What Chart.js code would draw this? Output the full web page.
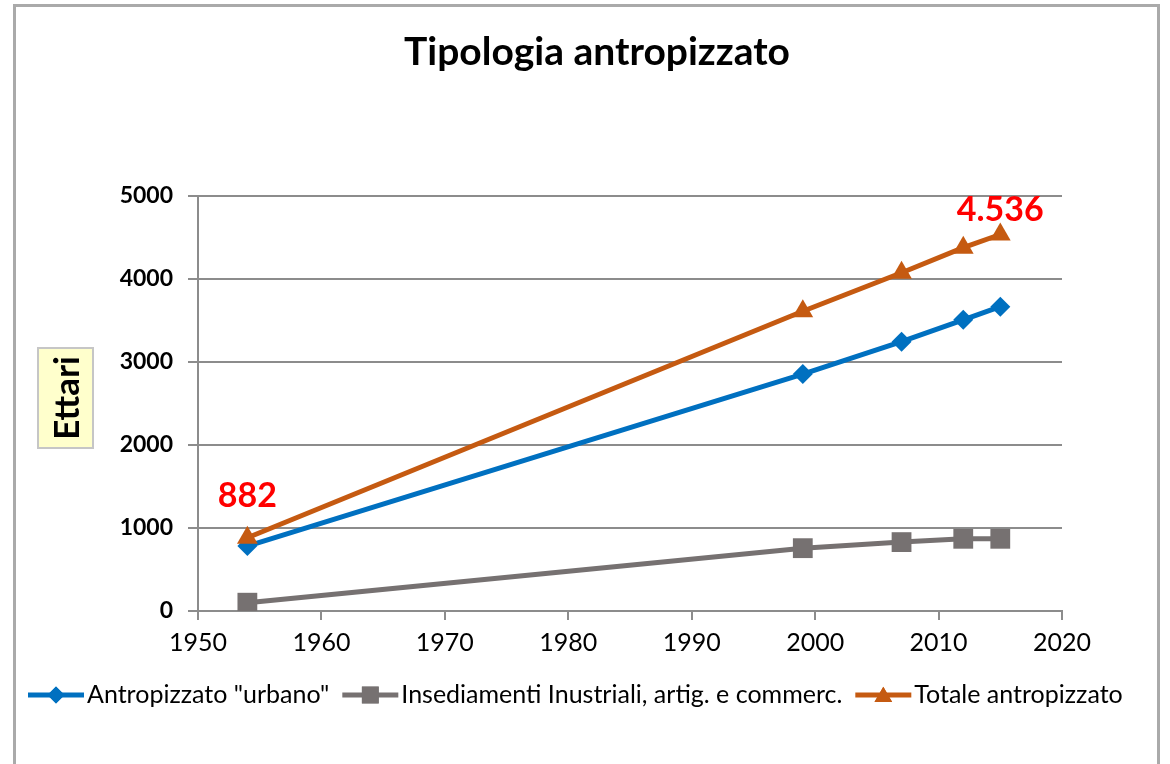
<!DOCTYPE html>
<html>
<head>
<meta charset="utf-8">
<script src="https://cdn.jsdelivr.net/npm/chart.js@4/dist/chart.umd.min.js"></script>
<style>
	html, body { margin: 0; padding: 0; background: #fff; }
	#wrap { width: 1170px; height: 764px; }
</style>
</head>
<body>
<div id="wrap"><canvas id="tipologiaChart" width="1170" height="764"></canvas></div>
<script>
// data
const years = [1954, 1999, 2007, 2012, 2015];
const urbano = [782, 2855, 3245, 3508, 3666];
const industriali = [100, 757, 830, 870, 870];
const totale = [882, 3612, 4075, 4378, 4536];
const seriesNames = ['Antropizzato "urbano"', 'Insediamenti Inustriali, artig. e commerc.', 'Totale antropizzato'];
const chartTitle = 'Tipologia antropizzato';
const xTicks = [1950, 1960, 1970, 1980, 1990, 2000, 2010, 2020];
const yTicks = [0, 1000, 2000, 3000, 4000, 5000];
const labelledPoints = [0, 4]; // indexes of Totale with a value label

const BLUE = '#0070C0', GREY = '#767171', ORANGE = '#C55A11';
const FONT = 'Lato, "Open Sans", sans-serif';

function toPoints(values) {
	return years.map((y, i) => ({ x: y, y: values[i] }));
}

function formatIt(v) {
	return String(v).replace(/\B(?=(\d{3})+(?!\d))/g, '.');
}

// frame, title, y title box, value labels and the legend
const decorations = {
	id: 'decorations',
	beforeDraw(chart) {
		const ctx = chart.ctx;
		ctx.save();
		ctx.fillStyle = '#fff';
		ctx.fillRect(0, 0, chart.width, chart.height);
		ctx.strokeStyle = '#aaaaaa';
		ctx.lineWidth = 3;
		ctx.strokeRect(14.5, 5.5, 1144, 800);
		ctx.restore();
	},
	afterDraw(chart) {
		const ctx = chart.ctx;
		ctx.save();

		// title, centred on the whole frame
		ctx.fillStyle = '#000';
		ctx.font = 'bold 39px ' + FONT;
		ctx.textAlign = 'center';
		ctx.textBaseline = 'middle';
		ctx.fillText(chartTitle, 597, 52);

		// Ettari box
		ctx.fillStyle = '#FFFFCC';
		ctx.strokeStyle = '#c6c6c6';
		ctx.lineWidth = 2;
		ctx.fillRect(38, 348, 55, 100);
		ctx.strokeRect(38, 348, 55, 100);
		ctx.translate(66, 398);
		ctx.rotate(-Math.PI / 2);
		ctx.fillStyle = '#000';
		ctx.font = 'bold 35px ' + FONT;
		ctx.fillText('Ettari', 0, 2);
		ctx.restore();

		// value labels on Totale
		const meta = chart.getDatasetMeta(2);
		const offsets = [42, 24];
		ctx.save();
		ctx.fillStyle = '#FF0000';
		ctx.font = 'bold 34px ' + FONT;
		ctx.textAlign = 'center';
		ctx.textBaseline = 'middle';
		labelledPoints.forEach((idx, k) => {
			const pt = meta.data[idx];
			ctx.fillText(formatIt(totale[idx]), pt.x, pt.y - offsets[k]);
		});
		ctx.restore();

		// legend: line + marker + text
		const colors = [BLUE, GREY, ORANGE];
		const styles = ['rectRot', 'rect', 'triangle'];
		const radii = [10, 14, 12];
		ctx.save();
		ctx.font = '25px ' + FONT;
		ctx.textBaseline = 'middle';
		let x = 28;
		const y = 695;
		for (let i = 0; i < seriesNames.length; i++) {
			ctx.strokeStyle = colors[i];
			ctx.lineWidth = 5;
			ctx.beginPath();
			ctx.moveTo(x, y);
			ctx.lineTo(x + 56, y);
			ctx.stroke();
			ctx.fillStyle = colors[i];
			Chart.helpers.drawPoint(ctx, { pointStyle: styles[i], radius: radii[i] * 0.85, borderWidth: 0 }, x + 28, y + (i === 2 ? 2 : 0));
			ctx.fill();
			ctx.fillStyle = '#000';
			ctx.fillText(seriesNames[i], x + 59, y);
			x += 59 + ctx.measureText(seriesNames[i]).width + 13;
		}
		ctx.restore();
	}
};

const ctx = document.getElementById('tipologiaChart').getContext('2d');
const myChart = new Chart(ctx, {
	type: 'line',
	data: {
		datasets: [
			{
				label: seriesNames[0],
				data: toPoints(urbano),
				borderColor: BLUE,
				backgroundColor: BLUE,
				borderWidth: 5,
				pointStyle: 'rectRot',
				pointRadius: 10,
				pointBorderWidth: 0,
				order: 3
			},
			{
				label: seriesNames[1],
				data: toPoints(industriali),
				borderColor: GREY,
				backgroundColor: GREY,
				borderWidth: 5,
				pointStyle: 'rect',
				pointRadius: 14,
				pointBorderWidth: 0,
				order: 2
			},
			{
				label: seriesNames[2],
				data: toPoints(totale),
				borderColor: ORANGE,
				backgroundColor: ORANGE,
				borderWidth: 5,
				pointStyle: 'triangle',
				pointRadius: 12,
				pointBorderWidth: 0,
				order: 1
			}
		]
	},
	options: {
		responsive: false,
		animation: false,
		layout: {
			padding: { left: 0, right: 108, top: 196, bottom: 103 }
		},
		plugins: {
			legend: { display: false },
			tooltip: { enabled: false },
			title: { display: false }
		},
		scales: {
			x: {
				type: 'linear',
				min: 1950,
				max: 2020,
				afterBuildTicks: scale => { scale.ticks = xTicks.map(v => ({ value: v })); },
				afterFit: scale => { scale.height = 50; },
				ticks: {
					color: '#000',
					font: { family: FONT, size: 25 },
					padding: 8,
					maxRotation: 0,
					callback: v => String(v)
				},
				grid: {
					drawOnChartArea: false,
					drawTicks: true,
					tickLength: 9,
					color: '#8c8c8c',
					lineWidth: 2
				},
				border: { color: '#8c8c8c', width: 2 }
			},
			y: {
				min: 0,
				max: 5000,
				afterBuildTicks: scale => { scale.ticks = yTicks.map(v => ({ value: v })); },
				afterFit: scale => { scale.width = 198; },
				ticks: {
					color: '#000',
					font: { family: FONT, size: 23, weight: 'bold' },
					padding: 15,
					callback: v => String(v)
				},
				grid: {
					color: '#8c8c8c',
					lineWidth: 2,
					tickLength: 10
				},
				border: { color: '#8c8c8c', width: 2 }
			}
		}
	},
	plugins: [decorations]
});
</script>
</body>
</html>
